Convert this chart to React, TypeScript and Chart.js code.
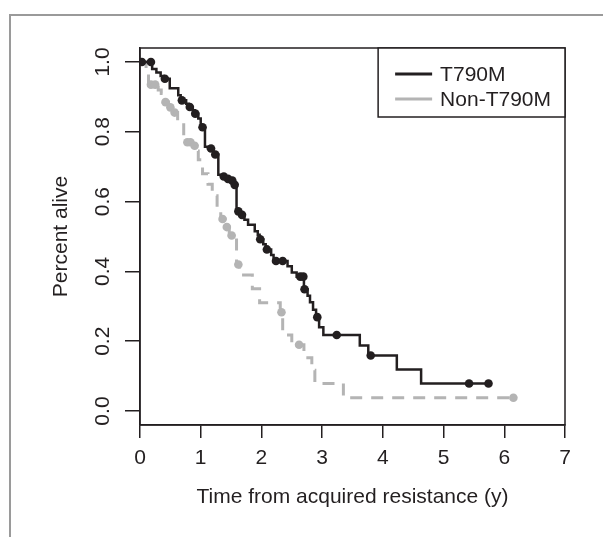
import React, { useEffect, useRef } from 'react';
import { Chart, registerables } from 'chart.js';

Chart.register(...registerables);

// ---- data ----
const xTickValues = [0, 1, 2, 3, 4, 5, 6, 7];
const yTickValues = [0, 0.2, 0.4, 0.6, 0.8, 1.0];
const seriesNames = ['T790M', 'Non-T790M'];
const xTitle = 'Time from acquired resistance (y)';
const yTitle = 'Percent alive';

// T790M: event times and survival after each drop (last point = end of follow-up)
const t790mTimes = [0, 0.2, 0.27, 0.34, 0.39, 0.49, 0.63, 0.67, 0.76, 0.8, 0.87, 0.9, 0.96, 1.0, 1.07, 1.12, 1.21, 1.29, 1.34, 1.43, 1.5, 1.54, 1.59, 1.65, 1.72, 1.78, 1.89, 1.94, 1.97, 2.03, 2.07, 2.16, 2.2, 2.43, 2.5, 2.58, 2.7, 2.76, 2.8, 2.85, 2.9, 2.95, 3.02, 3.62, 3.76, 4.23, 4.63, 5.76];
const t790mSurv = [1.0, 0.98, 0.97, 0.96, 0.952, 0.925, 0.905, 0.89, 0.88, 0.871, 0.862, 0.852, 0.838, 0.813, 0.757, 0.752, 0.735, 0.677, 0.672, 0.665, 0.66, 0.648, 0.572, 0.562, 0.548, 0.534, 0.515, 0.505, 0.492, 0.478, 0.463, 0.447, 0.43, 0.415, 0.397, 0.385, 0.349, 0.33, 0.312, 0.29, 0.269, 0.24, 0.218, 0.188, 0.159, 0.119, 0.079, 0.079];
const t790mCensorTimes = [0.03, 0.18, 0.41, 0.69, 0.82, 0.91, 1.03, 1.17, 1.24, 1.38, 1.45, 1.52, 1.56, 1.62, 1.68, 1.98, 2.09, 2.24, 2.35, 2.64, 2.69, 2.71, 2.92, 3.24, 3.8, 5.42, 5.74];
const t790mCensorSurv = [1.0, 1.0, 0.952, 0.89, 0.871, 0.852, 0.813, 0.752, 0.735, 0.672, 0.665, 0.66, 0.648, 0.572, 0.562, 0.492, 0.463, 0.43, 0.43, 0.385, 0.385, 0.349, 0.269, 0.218, 0.159, 0.079, 0.079];

// Non-T790M
const nonTimes = [0, 0.1, 0.14, 0.3, 0.35, 0.38, 0.47, 0.54, 0.62, 0.72, 0.87, 0.93, 0.96, 1.03, 1.12, 1.19, 1.27, 1.33, 1.4, 1.47, 1.59, 1.64, 1.85, 1.97, 2.31, 2.35, 2.5, 2.7, 2.83, 2.88, 3.35, 6.15];
const nonSurv = [1.0, 0.96, 0.935, 0.92, 0.91, 0.885, 0.87, 0.855, 0.83, 0.77, 0.76, 0.745, 0.72, 0.68, 0.65, 0.617, 0.583, 0.55, 0.527, 0.503, 0.42, 0.39, 0.35, 0.31, 0.283, 0.218, 0.19, 0.153, 0.117, 0.079, 0.038, 0.038];
const nonCensorTimes = [0.18, 0.25, 0.42, 0.5, 0.57, 0.78, 0.83, 0.9, 1.36, 1.43, 1.51, 1.62, 2.33, 2.62, 6.15];
const nonCensorSurv = [0.935, 0.935, 0.885, 0.87, 0.855, 0.77, 0.77, 0.76, 0.55, 0.527, 0.503, 0.42, 0.283, 0.19, 0.038];

const BLACK = '#231f20';
const GRAY = '#b4b4b4';
const FONT_FAMILY = "'Liberation Sans', Arial, Helvetica, sans-serif";
const FONT_SIZE = 21;

const toPoints = (xs: number[], ys: number[]) => xs.map((x, i) => ({ x, y: ys[i] }));

const framePlugin = {
  id: 'rFrame',
  afterDatasetsDraw(chart: any) {
    const { ctx, chartArea } = chart;
    const { left, top, right, bottom } = chartArea;
    ctx.save();
    ctx.strokeStyle = BLACK;
    ctx.lineWidth = 1.5;
    ctx.strokeRect(left, top, right - left, bottom - top);

    // legend box (top-right, inside plot)
    const items = [chart.data.datasets[0], chart.data.datasets[2]];
    ctx.font = `${FONT_SIZE}px ${FONT_FAMILY}`;
    const textW = Math.max(...items.map((d: any) => ctx.measureText(d.label).width));
    const boxW = textW + 76;
    const boxH = 69;
    const bx = right - boxW;
    const by = top;
    ctx.fillStyle = '#ffffff';
    ctx.fillRect(bx, by, boxW, boxH);
    ctx.lineWidth = 1.5;
    ctx.strokeStyle = BLACK;
    ctx.strokeRect(bx, by, boxW, boxH);
    items.forEach((d: any, i: number) => {
      const y = by + 26 + i * 25;
      ctx.beginPath();
      ctx.setLineDash([]);
      ctx.strokeStyle = d.borderColor;
      ctx.lineWidth = 3;
      ctx.moveTo(bx + 17, y);
      ctx.lineTo(bx + 54, y);
      ctx.stroke();
      ctx.fillStyle = BLACK;
      ctx.textBaseline = 'middle';
      ctx.textAlign = 'left';
      ctx.fillText(d.label, bx + 62, y + 1);
    });
    ctx.restore();
  },
};

export default function App() {
  const ref = useRef<HTMLCanvasElement | null>(null);

  useEffect(() => {
    if (!ref.current) return;
    const font = { family: FONT_FAMILY, size: FONT_SIZE };
    const chart = new Chart(ref.current, {
      type: 'line',
      data: {
        datasets: [
          {
            label: seriesNames[0],
            data: toPoints(t790mTimes, t790mSurv),
            borderColor: BLACK,
            borderWidth: 2.5,
            stepped: true,
            pointRadius: 0,
            fill: false,
          },
          {
            label: seriesNames[0] + ' censored',
            data: toPoints(t790mCensorTimes, t790mCensorSurv),
            showLine: false,
            pointRadius: 4.3,
            pointBackgroundColor: BLACK,
            pointBorderWidth: 0,
            borderColor: BLACK,
          },
          {
            label: seriesNames[1],
            data: toPoints(nonTimes, nonSurv),
            borderColor: GRAY,
            borderWidth: 3,
            borderDash: [12, 9],
            stepped: true,
            pointRadius: 0,
            fill: false,
          },
          {
            label: seriesNames[1] + ' censored',
            data: toPoints(nonCensorTimes, nonCensorSurv),
            showLine: false,
            pointRadius: 4.3,
            pointBackgroundColor: GRAY,
            pointBorderWidth: 0,
            borderColor: GRAY,
          },
        ],
      } as any,
      options: {
        responsive: false,
        animation: false,
        events: [],
        layout: { padding: { top: 48, right: 38, left: 0, bottom: 0 } },
        plugins: { legend: { display: false }, tooltip: { enabled: false } },
        scales: {
          x: {
            type: 'linear',
            min: 0,
            max: 7,
            afterBuildTicks: (s: any) => {
              s.ticks = xTickValues.map((v) => ({ value: v }));
            },
            afterFit: (s: any) => {
              s.height = 112;
            },
            grid: { drawOnChartArea: false, drawTicks: true, tickLength: 13, color: BLACK, lineWidth: 1.5 },
            border: { display: true, color: BLACK, width: 1.5 },
            ticks: { padding: 8, font, color: BLACK, maxRotation: 0, autoSkip: false, callback: (v: any) => String(v) },
            title: { display: true, text: xTitle, font, color: BLACK, padding: { top: 0, bottom: 27 } },
          },
          y: {
            type: 'linear',
            min: -0.04,
            max: 1.04,
            afterBuildTicks: (s: any) => {
              s.ticks = yTickValues.map((v) => ({ value: v }));
            },
            afterFit: (s: any) => {
              s.width = 140;
            },
            grid: { drawOnChartArea: false, drawTicks: true, tickLength: 15, color: BLACK, lineWidth: 1.5 },
            border: { display: true, color: BLACK, width: 1.5 },
            ticks: {
              padding: 7,
              font,
              color: BLACK,
              minRotation: 90,
              maxRotation: 90,
              crossAlign: 'center',
              autoSkip: false,
              callback: (v: any) => Number(v).toFixed(1),
            },
            title: { display: true, text: yTitle, font, color: BLACK, padding: { top: 49, bottom: 0 } },
          },
        },
      } as any,
      plugins: [framePlugin],
    });
    return () => chart.destroy();
  }, []);

  return (
    <div style={{ position: 'fixed', left: 0, top: 0, width: 603, height: 537, overflow: 'hidden', background: '#fff' }}>
      <div
        style={{
          position: 'absolute',
          left: 9,
          top: 14,
          width: 800,
          height: 800,
          borderLeft: '2.5px solid #9a9a9a',
          borderTop: '2.5px solid #9a9a9a',
        }}
      />
      <canvas ref={ref} width={603} height={537} style={{ position: 'absolute', left: 0, top: 0, width: 603, height: 537 }} />
    </div>
  );
}
